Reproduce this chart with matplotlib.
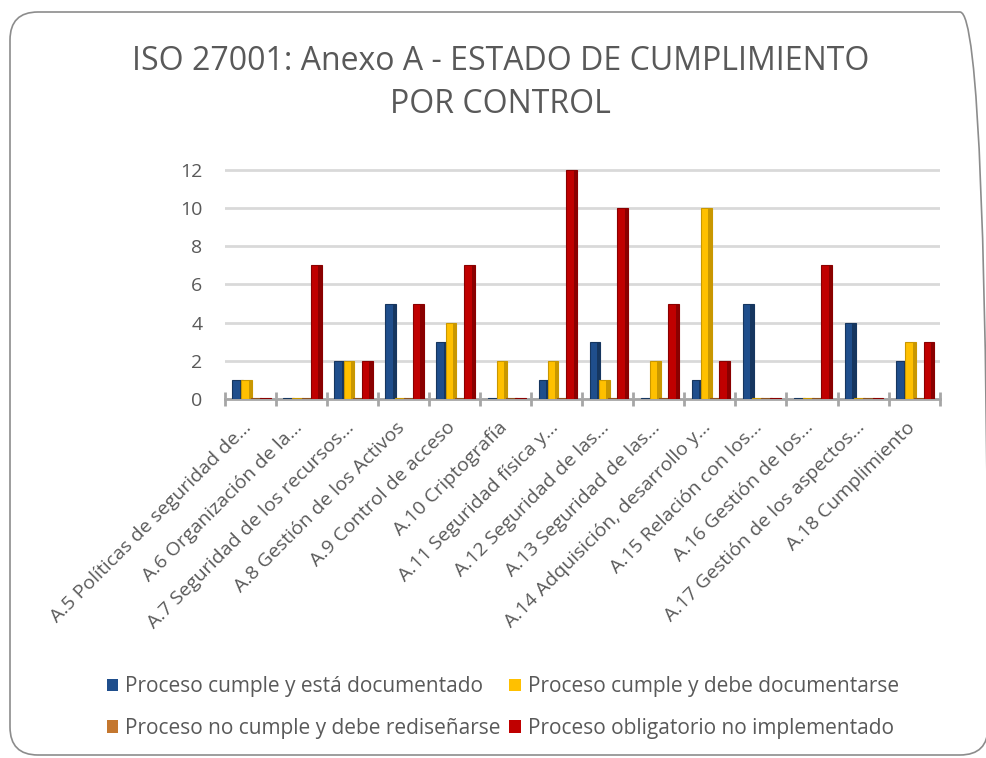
import numpy as np
import matplotlib
matplotlib.use('Agg')
import matplotlib.pyplot as plt
import matplotlib.transforms as mtransforms
from matplotlib.patches import FancyBboxPatch, Patch

categories = ['A.5 Políticas de seguridad de...', 'A.6 Organización de la...',
              'A.7 Seguridad de los recursos...', 'A.8 Gestión de los Activos',
              'A.9 Control de acceso', 'A.10 Criptografía',
              'A.11 Seguridad física y...', 'A.12 Seguridad de las...',
              'A.13 Seguridad de las...', 'A.14 Adquisición, desarrollo y...',
              'A.15 Relación con los...', 'A.16 Gestión de los...',
              'A.17 Gestión de los aspectos...', 'A.18 Cumplimiento']

cumple_doc = [1, 0, 2, 5, 3, 0, 1, 3, 0, 1, 5, 0, 4, 2]
cumple_debe_doc = [1, 0, 2, 0, 4, 2, 2, 1, 2, 10, 0, 0, 0, 3]
no_cumple = [0, 0, 0, 0, 0, 0, 0, 0, 0, 0, 0, 0, 0, 0]
no_implementado = [0, 7, 2, 5, 7, 0, 12, 10, 5, 2, 0, 7, 0, 3]

series_names = ['Proceso cumple y está documentado', 'Proceso cumple y debe documentarse',
                'Proceso no cumple y debe rediseñarse', 'Proceso obligatorio no implementado']
colors = ['#1F4E8C', '#FFC000', '#C4772F', '#C00000']
sides = ['#16365F', '#C99700', '#8E5220', '#8A0000']

plt.rcParams['font.family'] = ['Open Sans', 'DejaVu Sans']
text_color = '#595959'

fig = plt.figure(figsize=(9.86, 7.58), dpi=100)
ax = fig.add_axes([0.228, 0.4736, 0.725, 0.3097])

x = np.arange(len(categories))
width = 0.21
offsets = [-0.25, -0.07, 0.11, 0.29]
data = [cumple_doc, cumple_debe_doc, no_cumple, no_implementado]
for vals, off, c, s in zip(data, offsets, colors, sides):
    h = np.maximum(np.array(vals, dtype=float), 0.07)
    ax.bar(x + off, h, width, color=c, edgecolor=s, linewidth=0.8, zorder=3)
    ax.bar(x + off + width * 0.35, h, width * 0.3, color=s, linewidth=0, zorder=3)

ax.set_xlim(-0.5, len(categories) - 0.5)
ax.set_ylim(0, 12.3)
ax.set_yticks(range(0, 13, 2))
ax.yaxis.grid(True, color='#D9D9D9', linewidth=2)
ax.set_axisbelow(True)
for sp in ['top', 'right', 'left']:
    ax.spines[sp].set_visible(False)
ax.spines['bottom'].set_color('#A6A6A6')
ax.spines['bottom'].set_linewidth(2)

ax.tick_params(axis='y', length=0, pad=16, labelsize=14, labelcolor=text_color)
ax.set_xticks(x)
ax.set_xticklabels(categories, rotation=45, ha='right', rotation_mode='anchor',
                   fontsize=14, color=text_color)
ax.tick_params(axis='x', length=0, pad=14)
shift = mtransforms.ScaledTranslation(-0.08, 0, fig.dpi_scale_trans)
for lbl in ax.get_xticklabels():
    lbl.set_transform(lbl.get_transform() + shift)
ax.set_xticks(np.arange(-0.5, len(categories), 1), minor=True)
ax.tick_params(axis='x', which='minor', length=10, width=2, color='#A6A6A6', direction='inout')

fig.text(0.508, 0.891, 'ISO 27001: Anexo A - ESTADO DE CUMPLIMIENTO\nPOR CONTROL',
         ha='center', va='center', fontsize=23, color='#595959', linespacing=1.4)

handles = [Patch(facecolor=colors[i]) for i in [0, 2, 1, 3]]
labels = [series_names[i] for i in [0, 2, 1, 3]]
fig.legend(handles, labels, loc='center', bbox_to_anchor=(0.51, 0.0665), ncol=2,
           frameon=False, fontsize=15, labelcolor=text_color, handlelength=0.55,
           handleheight=0.55, handletextpad=0.35, columnspacing=0.4, labelspacing=1.0)

frame = FancyBboxPatch((0.1, 0.03), 9.78, 7.43, boxstyle='round,pad=0,rounding_size=0.28',
                       transform=fig.dpi_scale_trans, facecolor='none', edgecolor='#8C8C8C',
                       linewidth=1.2)
fig.patches.append(frame)

fig.savefig('out.png', dpi=100)
